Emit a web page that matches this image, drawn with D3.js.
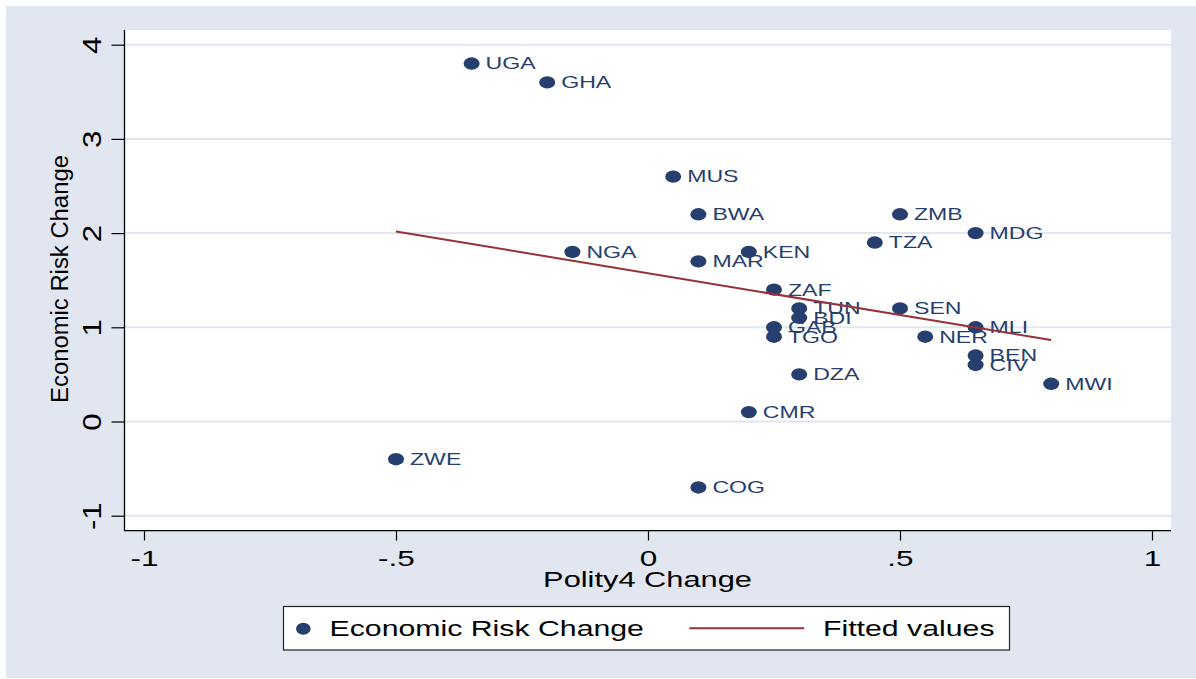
<!DOCTYPE html>
<html lang="en">
<head>
<meta charset="UTF-8">
<title>Economic Risk Change vs Polity4 Change</title>
<script src="https://cdn.jsdelivr.net/npm/d3@7"></script>
<style>
  * { margin: 0; padding: 0; }
  body { background: #fff; }
  svg text { font-family: "Liberation Sans", Arial, sans-serif; }
</style>
</head>
<body>
<div id="chart"></div>
<script>
// data
const countries = ["UGA", "GHA", "MUS", "BWA", "ZMB", "MDG", "TZA", "NGA", "KEN", "MAR", "ZAF", "TUN", "SEN",
  "BDI", "GAB", "MLI", "NER", "TGO", "BEN", "CIV", "MWI", "DZA", "CMR", "ZWE", "COG"];
const polityChange = [-0.35, -0.2, 0.05, 0.1, 0.5, 0.65, 0.45, -0.15, 0.2, 0.1, 0.25, 0.3, 0.5,
  0.3, 0.25, 0.65, 0.55, 0.25, 0.65, 0.65, 0.8, 0.3, 0.2, -0.5, 0.1];
const econRiskChange = [3.8, 3.6, 2.6, 2.2, 2.2, 2.0, 1.9, 1.8, 1.8, 1.7, 1.4, 1.2, 1.2,
  1.1, 1.0, 1.0, 0.9, 0.9, 0.7, 0.6, 0.4, 0.5, 0.1, -0.4, -0.7];

const xTickValues = [-1, -0.5, 0, 0.5, 1];
const xTickLabels = ["-1", "-.5", "0", ".5", "1"];
const yTickValues = [-1, 0, 1, 2, 3, 4];
const yTickLabels = ["-1", "0", "1", "2", "3", "4"];
const legendLabels = ["Economic Risk Change", "Fitted values"];

const W = 1196, H = 679;
const plot = { left: 124, right: 1171, top: 30, bottom: 531 };
const bg = "#e1e6f0";
const navy = "#263f6e";
const maroon = "#953239";
const sx = 1.4; // the picture is stretched sideways

const svg = d3.select("#chart").append("svg")
  .attr("width", W).attr("height", H);

svg.append("rect").attr("x", 6).attr("y", 6).attr("width", W - 6).attr("height", H - 7).attr("fill", bg);
svg.append("rect")
  .attr("x", plot.left).attr("y", plot.top)
  .attr("width", plot.right - plot.left).attr("height", plot.bottom - plot.top)
  .attr("fill", "#fff");

const x = d3.scaleLinear().domain([-1, 1]).range([144, 1152]);
const y = d3.scaleLinear().domain([-1, 4]).range([515.7, 44.7]);

// grid lines
svg.append("g").selectAll("line")
  .data(yTickValues).join("line")
  .attr("x1", plot.left).attr("x2", plot.right)
  .attr("y1", d => y(d)).attr("y2", d => y(d))
  .attr("stroke", bg).attr("stroke-width", 2);

// x axis
const xAxisG = svg.append("g")
  .attr("transform", `translate(0,${plot.bottom})`)
  .call(d3.axisBottom(x).tickValues(xTickValues)
    .tickFormat((d, i) => xTickLabels[i]).tickSize(9.5).tickSizeOuter(0));
xAxisG.select(".domain").remove();
xAxisG.selectAll(".tick line").attr("stroke", "#000").attr("stroke-width", 1.2);
xAxisG.selectAll(".tick text")
  .attr("y", 35).attr("dy", 0)
  .attr("transform", `scale(${sx},1)`)
  .attr("font-size", 22.5).attr("fill", "#000");

// y axis
const yAxisG = svg.append("g")
  .attr("transform", `translate(${plot.left},0)`)
  .call(d3.axisLeft(y).tickValues(yTickValues)
    .tickFormat((d, i) => yTickLabels[i]).tickSize(12.5).tickSizeOuter(0));
yAxisG.select(".domain").remove();
yAxisG.selectAll(".tick line").attr("stroke", "#000").attr("stroke-width", 1.2);
yAxisG.selectAll(".tick text")
  .attr("x", 0).attr("y", 0).attr("dy", 0)
  .attr("text-anchor", "middle")
  .attr("transform", "translate(-23,0) rotate(-90) scale(1.25,1)")
  .attr("font-size", 25).attr("fill", "#000");

// axis lines
svg.append("line")
  .attr("x1", plot.left + 0.5).attr("x2", plot.left + 0.5)
  .attr("y1", plot.top).attr("y2", plot.bottom)
  .attr("stroke", "#000").attr("stroke-width", 1.3);
svg.append("line")
  .attr("x1", plot.left).attr("x2", plot.right)
  .attr("y1", plot.bottom - 0.3).attr("y2", plot.bottom - 0.3)
  .attr("stroke", "#000").attr("stroke-width", 1.3);

// axis titles
svg.append("text")
  .attr("transform", `translate(${(plot.left + plot.right) / 2},587) scale(${sx},1)`)
  .attr("text-anchor", "middle").attr("font-size", 22).attr("fill", "#000")
  .text("Polity4 Change");
svg.append("text")
  .attr("transform", "translate(67.5,279) rotate(-90) scale(1.06,1.1)")
  .attr("text-anchor", "middle").attr("font-size", 22.5).attr("fill", "#000")
  .text("Economic Risk Change");

// points with labels
const pts = countries.map((c, i) => ({ c, px: polityChange[i], ey: econRiskChange[i] }));
const ptG = svg.append("g").selectAll("g")
  .data(pts).join("g")
  .attr("transform", d => `translate(${x(d.px)},${y(d.ey)})`);
ptG.append("ellipse").attr("rx", 8).attr("ry", 6.2).attr("fill", navy);
ptG.append("text")
  .attr("transform", `translate(14,5.9) scale(${sx},1)`)
  .attr("font-size", 16.5).attr("fill", navy)
  .text(d => d.c);

// fitted values (OLS)
const mx = d3.mean(polityChange), my = d3.mean(econRiskChange);
const slope = d3.sum(polityChange, (v, i) => (v - mx) * (econRiskChange[i] - my)) /
  d3.sum(polityChange, v => (v - mx) * (v - mx));
const fit = v => my + slope * (v - mx);
const xr = d3.extent(polityChange);
svg.append("path")
  .attr("d", d3.line().x(d => x(d)).y(d => y(fit(d)))(xr))
  .attr("fill", "none").attr("stroke", maroon).attr("stroke-width", 2);

// legend
const lg = svg.append("g");
lg.append("rect")
  .attr("x", 283.5).attr("y", 606.5).attr("width", 726).attr("height", 43.5)
  .attr("fill", "#fff").attr("stroke", "#222").attr("stroke-width", 1.2);
lg.append("ellipse").attr("cx", 303.3).attr("cy", 628.7).attr("rx", 7.3).attr("ry", 6).attr("fill", navy);
lg.append("text")
  .attr("transform", `translate(329.5,636) scale(1.345,1)`)
  .attr("font-size", 22.5).attr("fill", "#000")
  .text(legendLabels[0]);
lg.append("line")
  .attr("x1", 689.3).attr("x2", 804.3).attr("y1", 628.3).attr("y2", 628.3)
  .attr("stroke", maroon).attr("stroke-width", 2);
lg.append("text")
  .attr("transform", `translate(823,636) scale(1.345,1)`)
  .attr("font-size", 22.5).attr("fill", "#000")
  .text(legendLabels[1]);
</script>
</body>
</html>
